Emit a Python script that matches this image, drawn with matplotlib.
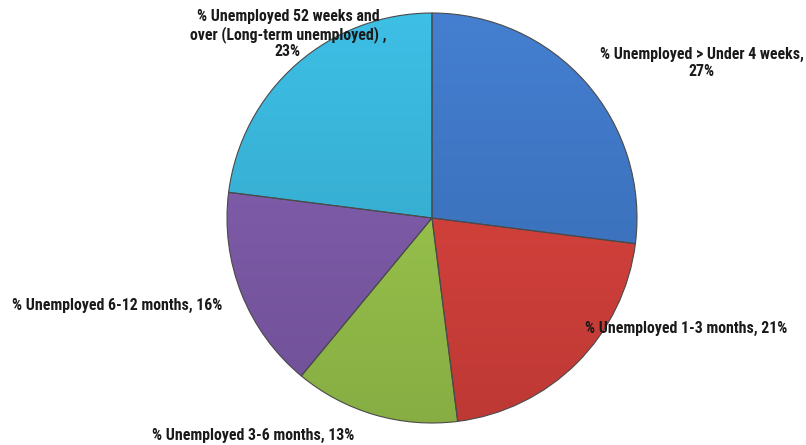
import numpy as np
import matplotlib.pyplot as plt
import matplotlib.colors as mcolors

# Duration of unemployment shares
labels = ['% Unemployed > Under 4 weeks',
          '% Unemployed 1-3 months',
          '% Unemployed 3-6 months',
          '% Unemployed 6-12 months',
          '% Unemployed 52 weeks and\nover (Long-term unemployed) ']
shares = [27, 21, 13, 16, 23]
colors = ['#3c74c2', '#d33f3a', '#96c14a', '#7c59a7', '#36b1d6']

fig = plt.figure(figsize=(8.06, 4.45), dpi=100)
ax = fig.add_axes([0, 0, 1, 1])

cx, cy, r = 432, 227, 205
wedges, _ = ax.pie(shares, colors=colors, startangle=90, counterclock=False,
                   center=(cx, cy), radius=r, frame=True,
                   wedgeprops=dict(edgecolor='#4a4a4a', linewidth=0.8))
ax.set_xlim(0, 806)
ax.set_ylim(0, 445)
ax.axis('off')

# vertical shading inside each slice: lighter top, darker bottom
grad = np.linspace(1, 0, 256).reshape(-1, 1)
for w, c in zip(wedges, colors):
    base = np.array(mcolors.to_rgb(c))
    top = np.clip(base * 1.05 + 0.02, 0, 1)
    bot = base * 0.9
    img = top[None, None, :] * grad[:, :, None] + bot[None, None, :] * (1 - grad[:, :, None])
    im = ax.imshow(img, extent=(cx - r, cx + r, cy - r, cy + r), aspect='auto',
                   origin='upper', zorder=w.get_zorder() + 0.1)
    im.set_clip_path(w)
    w.set_facecolor('none')
    w.set_zorder(w.get_zorder() + 0.2)

font = dict(family=['Roboto Condensed', 'DejaVu Sans'],
            weight='bold', size=11.4, color='#1a1a1a')
label_pos = [(702, 382), (686, 117), (253, 10), (117, 140), (288, 411)]
for lab, val, (x, y) in zip(labels, shares, label_pos):
    if lab.startswith('% Unemployed > ') or '\n' in lab:
        txt = f'{lab},\n{val}%'
    else:
        txt = f'{lab}, {val}%'
    ax.text(x, y, txt, ha='center', va='center', multialignment='center',
            linespacing=1.15, **font)

fig.savefig('out.png', dpi=100)
